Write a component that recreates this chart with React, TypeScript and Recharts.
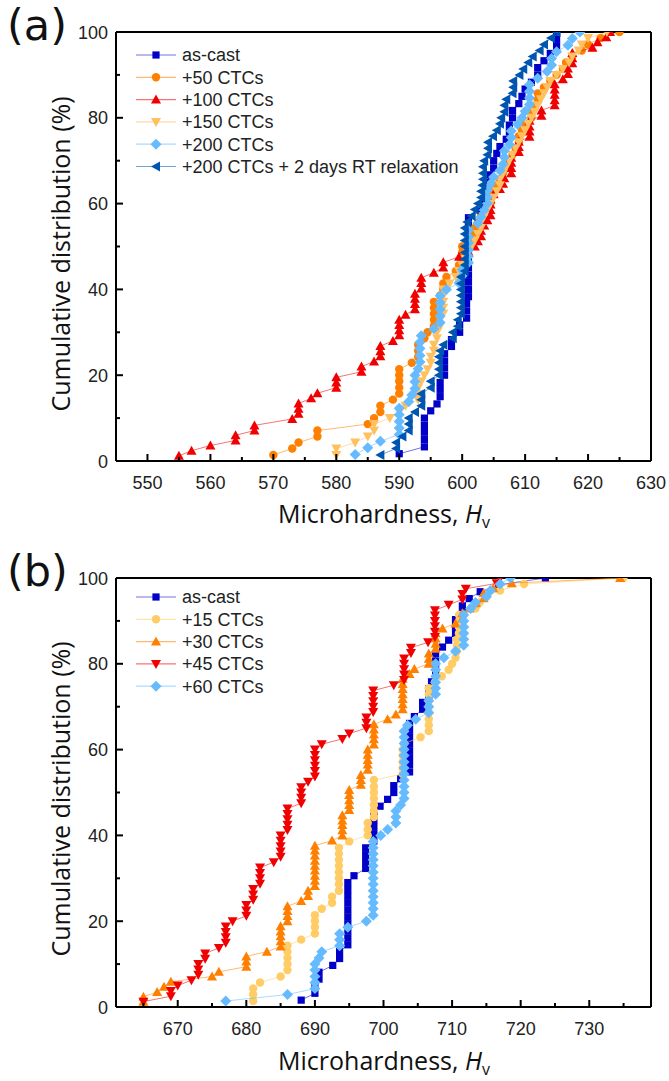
import React from 'react';
import { ScatterChart, Scatter, XAxis, YAxis, ReferenceLine, Legend } from 'recharts';

type Pt = [number, number];

// ---------- Panel (a) ----------
const namesA = ['as-cast', '+50 CTCs', '+100 CTCs', '+150 CTCs', '+200 CTCs', '+200 CTCs + 2 days RT relaxation'];
const xTicksA = [550, 555, 560, 565, 570, 575, 580, 585, 590, 595, 600, 605, 610, 615, 620, 625, 630];
const yTicks = [0, 10, 20, 30, 40, 50, 60, 70, 80, 90, 100];

const asCastA: Pt[] = [[590,1.7],[594,3.3],[594,5.0],[594,6.7],[594,8.3],[594,10.0],[595,11.7],[596,13.3],[596.5,15.0],[596.5,16.7],[596.5,18.3],[597.2,20.0],[597.2,21.7],[597.2,23.3],[597.2,25.0],[598.3,26.7],[598.3,28.3],[599.6,30.0],[599.6,31.7],[600.7,33.3],[600.7,35.0],[600.7,36.7],[601,38.3],[601,40.0],[601,41.7],[601,43.3],[601,45.0],[601,46.7],[601,48.3],[601,50.0],[601,51.7],[601,53.3],[601,55.0],[601,56.7],[603,58.3],[603.5,60.0],[604,61.7],[604,63.3],[604,65.0],[604.5,66.7],[605,68.3],[605,70.0],[605.5,71.7],[606,73.3],[607,75.0],[607.5,76.7],[607.5,78.3],[608,80.0],[608,81.7],[609,83.3],[609.5,85.0],[610,86.7],[611,88.3],[612,90.0],[612,91.7],[613,93.3],[614,95.0],[615,96.7],[615,98.3],[615,100]];

const ctc50A: Pt[] = [[570,1.4],[573,2.9],[574,4.3],[577,5.7],[577,7.1],[585,8.6],[586,10.0],[587,11.4],[587,12.9],[589,14.3],[590,15.7],[590,17.1],[590,18.6],[590,20.0],[590,21.4],[592,22.9],[593,24.3],[593,25.7],[593,27.1],[594,28.6],[594.5,30.0],[595.5,31.4],[595.5,32.9],[595.5,34.3],[595.5,35.7],[595.5,37.1],[596.5,38.6],[597,40.0],[597,41.4],[597.5,42.9],[599,44.3],[599.5,45.7],[600,47.1],[600,48.6],[600,50.0],[601.5,51.4],[602,52.9],[602,54.3],[602.5,55.7],[603,57.1],[604,58.6],[604.5,60.0],[604.5,61.4],[605,62.9],[605.5,64.3],[606,65.7],[606.5,67.1],[607,68.6],[607.5,70.0],[608,71.4],[608.5,72.9],[609,74.3],[609,75.7],[609.5,77.1],[610,78.6],[611,80.0],[611,81.4],[611.5,82.9],[612,84.3],[612,85.7],[613,87.1],[614,88.6],[615,90.0],[616,91.4],[616.5,92.9],[617.5,94.3],[619,95.7],[620,97.1],[622,98.6],[625,100]];

const ctc100A: Pt[] = [[555,1.2],[557,2.4],[560,3.6],[564,4.8],[564,6.0],[567,7.1],[567,8.3],[573,9.8],[574,11.0],[574,12.2],[574,13.4],[576,14.6],[577,15.8],[580,17.1],[580,18.3],[580,19.5],[584,20.8],[584,22.0],[586,23.2],[587,24.4],[587,25.6],[587,26.8],[589,28.0],[590,29.3],[590,30.5],[590,31.7],[590,32.9],[591,34.1],[592.5,35.4],[592.5,36.6],[592.5,37.8],[592.5,39.0],[593.5,40.2],[593.5,41.5],[593.5,42.7],[595.5,43.9],[597,45.1],[597,46.3],[599.5,47.6],[601,48.8],[602,50.0],[602.5,51.2],[603,52.4],[603,53.7],[603.5,54.9],[604,56.1],[604.5,57.3],[604.5,58.5],[604.5,59.8],[604.5,61.0],[605,62.2],[606,63.4],[606.5,64.6],[606.7,65.9],[607.8,67.1],[607.8,68.3],[607.8,69.5],[607.8,70.7],[609,72.0],[609,73.2],[609,74.4],[610.7,75.6],[610.7,76.8],[610.7,78.0],[610.7,79.3],[612.6,80.5],[612.6,81.7],[614.7,82.9],[614.7,84.1],[614.7,85.4],[614.7,86.6],[614.7,87.8],[616,89.0],[616.8,90.2],[616.8,91.5],[617.5,92.7],[617.5,93.9],[617.5,95.1],[620.7,96.3],[621.5,97.6],[622.9,98.8],[623.5,100]];

const ctc150A: Pt[] = [[580,1.4],[580,2.9],[583,4.3],[585,5.7],[586,7.1],[586,8.6],[588.5,10.0],[590,11.4],[591,12.9],[593,14.3],[593,15.7],[593,17.1],[593.5,18.6],[594,20.0],[594.5,21.4],[595,22.9],[595,24.3],[595.5,25.7],[595.5,27.1],[596,28.6],[596,30.0],[596.5,31.4],[596.5,32.9],[597,34.3],[597,35.7],[597,37.1],[597,38.6],[597,40.0],[598,41.4],[599,42.9],[599.5,44.3],[600,45.7],[600.5,47.1],[601,48.6],[601.5,50.0],[602,51.4],[602.5,52.9],[603,54.3],[603,55.7],[603.5,57.1],[604,58.6],[604.5,60.0],[605,61.4],[605.5,62.9],[606,64.3],[606,65.7],[606.5,67.1],[607,68.6],[607.5,70.0],[608,71.4],[608.5,72.9],[609,74.3],[609.5,75.7],[610,77.1],[610.5,78.6],[611,80.0],[611.5,81.4],[612,82.9],[612.5,84.3],[613,85.7],[613.5,87.1],[614,88.6],[615,90.0],[616,91.4],[617,92.9],[617.5,94.3],[618.5,95.7],[619,97.1],[620,98.6],[623,100]];

const ctc200A: Pt[] = [[583,1.5],[585,3.1],[587,4.6],[590,6.2],[590,7.7],[590,9.2],[590,10.8],[590,12.3],[591.5,13.8],[592,15.4],[592.5,16.9],[592.5,18.5],[592.5,20.0],[593,21.5],[593.3,23.1],[593.3,24.6],[593.3,26.2],[593.3,27.7],[593.5,29.2],[595.5,30.8],[596.5,32.3],[596.5,33.8],[596.5,35.4],[596.5,36.9],[596.5,38.5],[597.5,40.0],[599.5,41.5],[600,43.1],[600,44.6],[601,46.2],[601,47.7],[601,49.2],[601,50.8],[601,52.3],[601,53.8],[602.5,55.4],[603,56.9],[603.5,58.5],[604,60.0],[604,61.5],[604,63.1],[604.5,64.6],[605,66.2],[606,67.7],[606.5,69.2],[606.7,70.8],[606.7,72.3],[607.5,73.8],[607.8,75.4],[607.8,76.9],[608.8,78.5],[609.5,80.0],[610,81.5],[610.7,83.1],[610.7,84.6],[610.7,86.2],[610.7,87.7],[612,89.2],[613.5,90.8],[614.2,92.3],[614.2,93.8],[615,95.4],[616.8,96.9],[617.5,98.5],[618.7,100]];

const relaxA: Pt[] = [[587,1.4],[589.5,2.9],[589.5,4.3],[590.5,5.7],[591.5,7.1],[591.5,8.6],[591.5,10.0],[592.5,11.4],[593.5,12.9],[593.5,14.3],[593.5,15.7],[595,17.1],[595,18.6],[596.3,20.0],[596.3,21.4],[596.3,22.9],[596.3,24.3],[596.5,25.7],[597,27.1],[598.5,28.6],[598.5,30.0],[599.3,31.4],[599.3,32.9],[599.8,34.3],[599.8,35.7],[599.8,37.1],[599.8,38.6],[599.8,40.0],[599.8,41.4],[599.8,42.9],[600.4,44.3],[600.4,45.7],[600.4,47.1],[600.4,48.6],[600.4,50.0],[600.4,51.4],[600.4,52.9],[600.4,54.3],[600.8,55.7],[601.5,57.1],[602,58.6],[602.5,60.0],[603,61.4],[603,62.9],[603.2,64.3],[603.3,65.7],[603.3,67.1],[603.3,68.6],[603.5,70.0],[604,71.4],[604.1,72.9],[604.1,74.3],[604.9,75.7],[605.5,77.1],[606,78.6],[606.2,80.0],[606.7,81.4],[606.7,82.9],[607,84.3],[608,85.7],[608.1,87.1],[608.1,88.6],[609.1,90.0],[609.7,91.4],[610.5,92.9],[611.2,94.3],[612.3,95.7],[613,97.1],[614.1,98.6],[615,100]];

// ---------- Panel (b) ----------
const namesB = ['as-cast', '+15 CTCs', '+30 CTCs', '+45 CTCs', '+60 CTCs'];
const xTicksB = [665, 670, 675, 680, 685, 690, 695, 700, 705, 710, 715, 720, 725, 730, 735];

const asCastB: Pt[] = [[688,1.6],[690,3.2],[690,4.8],[690.6,6.5],[690.6,8.1],[692.6,9.7],[693.6,11.3],[693.6,12.9],[694.8,14.5],[694.8,16.1],[694.8,17.7],[694.8,19.4],[694.8,21.0],[694.8,22.6],[694.8,24.2],[694.8,25.8],[694.8,27.4],[694.8,29.0],[695.7,30.6],[697.4,32.3],[697.4,33.9],[697.4,35.5],[697.4,37.1],[698.6,38.7],[698.6,40.3],[698.6,41.9],[698.6,43.5],[698.6,45.2],[699.5,46.8],[700.6,48.4],[701.5,50.0],[701.5,51.6],[702.5,53.2],[703.8,54.8],[703.8,56.5],[703.8,58.1],[703.8,59.7],[703.8,61.3],[703.8,62.9],[703.8,64.5],[703.8,66.1],[704.5,67.7],[705.7,69.4],[705.7,71.0],[706.6,72.6],[706.6,74.2],[707,75.8],[707.6,77.4],[707.6,79.0],[707.6,80.6],[707.6,82.3],[708.6,83.9],[709.5,85.5],[710.5,87.1],[710.5,88.7],[710.5,90.3],[711.5,91.9],[711.5,93.5],[712.5,95.2],[714.1,96.8],[716.8,98.4],[723.6,100]];

const ctc15B: Pt[] = [[681,1.4],[681,2.9],[681,4.3],[682,5.7],[685,7.1],[686,8.6],[686,10.0],[686,11.4],[686,12.9],[686,14.3],[688,15.7],[690,17.1],[690,18.6],[690,20.0],[690,21.4],[691,22.9],[692.5,24.3],[692.5,25.7],[693.5,27.1],[693.5,28.6],[693.5,30.0],[693.5,31.4],[693.5,32.9],[693.5,34.3],[693.5,35.7],[693.5,37.1],[695,38.6],[697.7,40.0],[697.7,41.4],[697.7,42.9],[698.6,44.3],[698.6,45.7],[698.6,47.1],[698.6,48.6],[698.6,50.0],[698.6,51.4],[698.6,52.9],[702.8,54.3],[702.8,55.7],[702.8,57.1],[702.8,58.6],[702.8,60.0],[703,61.4],[705.4,62.9],[706.6,64.3],[706.6,65.7],[706.6,67.1],[706.6,68.6],[706.6,70.0],[706.6,71.4],[706.6,72.9],[706.6,74.3],[707.5,75.7],[708.5,77.1],[709.5,78.6],[710,80.0],[710.5,81.4],[710.7,82.9],[710.7,84.3],[710.7,85.7],[711,87.1],[711,88.6],[711,90.0],[711,91.4],[713.4,92.9],[714,94.3],[715.1,95.7],[717,97.1],[720.5,98.6],[735,100]];

const ctc30B: Pt[] = [[665,1.2],[665,2.4],[667,3.5],[668,4.7],[669,5.9],[675,7.1],[676,8.2],[680,9.4],[680,10.6],[680,11.8],[683,12.9],[685,14.1],[685,15.3],[685,16.5],[685,17.6],[685,18.8],[686,20.0],[686,21.2],[686,22.4],[686,23.5],[688,24.7],[689,25.9],[689,27.1],[690,28.2],[690,29.4],[690,30.6],[690,31.8],[690,32.9],[690,34.1],[690,35.3],[690,36.5],[690,37.6],[692.5,38.8],[694,40.0],[694,41.2],[694,42.4],[694,43.5],[694,44.7],[695,45.9],[695,47.1],[695,48.2],[695,49.4],[695,50.6],[696.7,51.8],[696.7,52.9],[696.7,54.1],[697.7,55.3],[697.7,56.5],[697.7,57.6],[697.7,58.8],[697.7,60.0],[698.6,61.2],[698.6,62.4],[698.6,63.5],[698.6,64.7],[698.6,65.9],[700.6,67.1],[701.8,68.2],[702.8,69.4],[702.8,70.6],[702.8,71.8],[702.8,72.9],[702.8,74.1],[702.8,75.3],[702.8,76.5],[703.8,77.6],[704.5,78.8],[706.6,80.0],[706.6,81.2],[706.6,82.4],[707.6,83.5],[707.6,84.7],[707.6,85.9],[707.6,87.1],[708.6,88.2],[710.5,89.4],[711.5,90.6],[711.5,91.8],[712.5,92.9],[713.5,94.1],[714.6,95.3],[714.6,96.5],[716,97.6],[718.7,98.8],[734.5,100]];

const ctc45B: Pt[] = [[665,1.25],[669,2.5],[669,3.75],[670,5.0],[672,6.25],[673,7.5],[673,8.75],[673,10.0],[674,11.25],[674,12.5],[676,13.75],[677,15.0],[677,16.25],[677,17.5],[677,18.75],[678,20.0],[680,21.25],[680,22.5],[680,23.75],[681,25.0],[681,26.25],[681,27.5],[682,28.75],[682,30.0],[682,31.25],[682,32.5],[684,33.75],[685,35.0],[685,36.25],[685,37.5],[685,38.75],[685,40.0],[686,41.25],[686,42.5],[686,43.75],[686,45.0],[686,46.25],[688,47.5],[688,48.75],[688,50.0],[688,51.25],[689,52.5],[690,53.75],[690,55.0],[690,56.25],[690,57.5],[690,58.75],[690,60.0],[691,61.25],[694,62.5],[695,63.75],[697.5,65.0],[697.5,66.25],[697.5,67.5],[698.5,68.75],[698.5,70.0],[698.5,71.25],[698.5,72.5],[698.5,73.75],[701.5,75.0],[703,76.25],[703,77.5],[703,78.75],[703,80.0],[703,81.25],[704,82.5],[704,83.75],[706.5,85.0],[707.5,86.25],[707.5,87.5],[707.5,88.75],[707.5,90.0],[707.5,91.25],[707.5,92.5],[709.5,93.75],[711.5,95.0],[711.5,96.25],[712,97.5],[716.5,98.75],[717,100]];

const ctc60B: Pt[] = [[677,1.4],[686,2.9],[690,4.3],[690,5.7],[690,7.1],[690,8.6],[690,10.0],[690.6,11.4],[691,12.9],[693.6,14.3],[693.6,15.7],[693.6,17.1],[694.8,18.6],[697.5,20.0],[698.5,21.4],[698.5,22.9],[698.5,24.3],[698.5,25.7],[698.5,27.1],[698.5,28.6],[698.5,30.0],[698.5,31.4],[698.5,32.9],[698.5,34.3],[698.5,35.7],[698.5,37.1],[698.5,38.6],[699.6,40.0],[700.6,41.4],[701.8,42.9],[701.8,44.3],[701.8,45.7],[702.5,47.1],[703,48.6],[703,50.0],[703,51.4],[703,52.9],[703,54.3],[703,55.7],[703,57.1],[703,58.6],[703,60.0],[703,61.4],[703,62.9],[703,64.3],[703.5,65.7],[704.7,67.1],[706.6,68.6],[706.6,70.0],[706.6,71.4],[707.6,72.9],[707.6,74.3],[707.6,75.7],[707.6,77.1],[707.6,78.6],[707.6,80.0],[708.8,81.4],[710.5,82.9],[711.7,84.3],[711.7,85.7],[711.7,87.1],[711.7,88.6],[711.7,90.0],[711.7,91.4],[712.7,92.9],[713.4,94.3],[715,95.7],[715.6,97.1],[717,98.6],[718.5,100]];

// ---------- styles ----------
type Shape = 'square' | 'circle' | 'up' | 'down' | 'diamond' | 'left';
interface Series { name: string; data: Pt[]; color: string; shape: Shape; }

const seriesA: Series[] = [
  { name: namesA[0], data: asCastA, color: '#0000C8', shape: 'square' },
  { name: namesA[1], data: ctc50A, color: '#FF8000', shape: 'circle' },
  { name: namesA[2], data: ctc100A, color: '#F00000', shape: 'up' },
  { name: namesA[3], data: ctc150A, color: '#FFC060', shape: 'down' },
  { name: namesA[4], data: ctc200A, color: '#66BBFF', shape: 'diamond' },
  { name: namesA[5], data: relaxA, color: '#0055B0', shape: 'left' },
];
const seriesB: Series[] = [
  { name: namesB[0], data: asCastB, color: '#0000C8', shape: 'square' },
  { name: namesB[1], data: ctc15B, color: '#FFCC66', shape: 'circle' },
  { name: namesB[2], data: ctc30B, color: '#FF8000', shape: 'up' },
  { name: namesB[3], data: ctc45B, color: '#F00000', shape: 'down' },
  { name: namesB[4], data: ctc60B, color: '#66BBFF', shape: 'diamond' },
];

const Marker = ({ cx, cy, color, shape }: { cx: number; cy: number; color: string; shape: Shape }) => {
  if (cx == null || cy == null || isNaN(cx) || isNaN(cy)) return null;
  switch (shape) {
    case 'square':
      return <rect x={cx - 3.6} y={cy - 3.6} width={7.2} height={7.2} fill={color} />;
    case 'circle':
      return <circle cx={cx} cy={cy} r={4.2} fill={color} />;
    case 'up':
      return <polygon points={`${cx},${cy - 5} ${cx - 5},${cy + 4} ${cx + 5},${cy + 4}`} fill={color} />;
    case 'down':
      return <polygon points={`${cx},${cy + 5} ${cx - 5},${cy - 4} ${cx + 5},${cy - 4}`} fill={color} />;
    case 'diamond':
      return <polygon points={`${cx},${cy - 5.5} ${cx + 5.5},${cy} ${cx},${cy + 5.5} ${cx - 5.5},${cy}`} fill={color} />;
    case 'left':
      return <polygon points={`${cx - 5},${cy} ${cx + 4},${cy - 5} ${cx + 4},${cy + 5}`} fill={color} />;
  }
  return null;
};

const TICK_FONT = '"Liberation Sans", Arial, sans-serif';
const TITLE_FONT = '"Open Sans", "Noto Sans", sans-serif';
const LABEL_FONT = '"DejaVu Sans", "Open Sans", sans-serif';

const makeXTick = (major: number) => (props: any) => {
  const { x, y, payload } = props;
  const v = payload.value;
  const isMajor = Math.abs(v % major) < 1e-6;
  return (
    <g>
      <line x1={x} x2={x} y1={y} y2={y - (isMajor ? 7 : 4)} stroke="#000" strokeWidth={2} />
      {isMajor && (
        <text x={x} y={y + 28} textAnchor="middle" fontSize={18} fontFamily={TICK_FONT} fill="#222">{v}</text>
      )}
    </g>
  );
};

const YTick = (props: any) => {
  const { x, y, payload } = props;
  const v = payload.value;
  const isMajor = v % 20 === 0;
  return (
    <g>
      <line x1={x} x2={x + (isMajor ? 7 : 4)} y1={y} y2={y} stroke="#000" strokeWidth={2} />
      {isMajor && (
        <text x={x - 8} y={y + 6.5} textAnchor="end" fontSize={18} fontFamily={TICK_FONT} fill="#222">{v}</text>
      )}
    </g>
  );
};

const LegendBox = ({ items }: { items: Series[] }) => {
  const rowH = 22.3;
  return (
    <svg width={360} height={items.length * rowH + 4} style={{ display: 'block' }}>
      {items.map((s, i) => {
        const cy = 11 + i * rowH;
        return (
          <g key={s.name}>
            <line x1={0} x2={40} y1={cy} y2={cy} stroke={s.color} strokeOpacity={0.55} strokeWidth={1.2} />
            <Marker cx={20} cy={cy} color={s.color} shape={s.shape} />
            <text x={46} y={cy + 6.3} fontSize={18} fontFamily={TICK_FONT} fill="#222">{s.name}</text>
          </g>
        );
      })}
    </svg>
  );
};

const Panel = ({ series, domain, ticks, major, height, xAxisH, legendTop }: {
  series: Series[]; domain: [number, number]; ticks: number[]; major: number; height: number; xAxisH: number; legendTop: number;
}) => (
  <ScatterChart width={669} height={height} margin={{ top: 32, right: 18, bottom: 0, left: 0 }}>
    <XAxis
      type="number"
      dataKey="x"
      domain={domain}
      ticks={ticks}
      interval={0}
      allowDataOverflow
      height={xAxisH}
      tickSize={0}
      tickMargin={0}
      tickLine={false}
      axisLine={{ stroke: '#000', strokeWidth: 2 }}
      tick={makeXTick(major)}
    />
    <YAxis
      type="number"
      dataKey="y"
      domain={[0, 100]}
      ticks={yTicks}
      interval={0}
      allowDataOverflow
      width={116}
      tickSize={0}
      tickMargin={0}
      tickLine={false}
      axisLine={{ stroke: '#000', strokeWidth: 2 }}
      tick={YTick}
    />
    <ReferenceLine y={100} stroke="#000" strokeWidth={2} ifOverflow="extendDomain" />
    <ReferenceLine x={domain[1]} stroke="#000" strokeWidth={2} ifOverflow="extendDomain" />
    <Legend
      layout="vertical"
      align="center"
      verticalAlign="middle"
      wrapperStyle={{ left: 136, top: legendTop, width: 360 }}
      content={() => <LegendBox items={series} />}
    />
    {series.map((s) => (
      <Scatter
        key={s.name}
        name={s.name}
        data={s.data.map(([x, y]) => ({ x, y }))}
        fill={s.color}
        isAnimationActive={false}
        line={{ stroke: s.color, strokeWidth: 1, strokeOpacity: 0.55 }}
        lineType="joint"
        shape={(p: any) => <Marker cx={p.cx} cy={p.cy} color={s.color} shape={s.shape} />}
      />
    ))}
  </ScatterChart>
);

const yTitleStyle = (cx: number, cy: number): React.CSSProperties => ({
  position: 'absolute',
  left: cx - 200,
  top: cy - 16,
  width: 400,
  height: 32,
  lineHeight: '32px',
  textAlign: 'center',
  transform: 'rotate(-90deg)',
  fontFamily: TITLE_FONT,
  fontSize: 25,
  color: '#111',
  whiteSpace: 'nowrap',
});

const xTitleStyle = (cx: number, cy: number): React.CSSProperties => ({
  position: 'absolute',
  left: cx - 200,
  top: cy - 16,
  width: 400,
  height: 32,
  lineHeight: '32px',
  textAlign: 'center',
  fontFamily: TITLE_FONT,
  fontSize: 25,
  color: '#111',
  whiteSpace: 'nowrap',
});

const panelLabelStyle = (x: number, y: number): React.CSSProperties => ({
  position: 'absolute',
  left: x,
  top: y,
  fontFamily: LABEL_FONT,
  fontSize: 43,
  lineHeight: 'normal',
  color: '#111',
  whiteSpace: 'nowrap',
});

export default function App() {
  return (
    <div style={{ position: 'absolute', left: 0, top: 0, width: 669, height: 1081, background: '#fff', overflow: 'hidden' }}>
      <div style={{ position: 'absolute', left: 0, top: 0 }}>
        <Panel series={seriesA} domain={[545, 630]} ticks={xTicksA} major={10} height={540} xAxisH={79} legendTop={44} />
      </div>
      <div style={{ position: 'absolute', left: 0, top: 546 }}>
        <Panel series={seriesB} domain={[661, 739]} ticks={xTicksB} major={10} height={535} xAxisH={74} legendTop={40} />
      </div>
      <div style={panelLabelStyle(7, 0)}>(a)</div>
      <div style={panelLabelStyle(7, 546)}>(b)</div>
      <div style={yTitleStyle(60, 254)}>Cumulative distribution (%)</div>
      <div style={yTitleStyle(60, 799)}>Cumulative distribution (%)</div>
      <div style={xTitleStyle(384, 513)}>Microhardness, <i>H</i><sub style={{ fontSize: 16, verticalAlign: -5 }}>v</sub></div>
      <div style={xTitleStyle(384, 1060)}>Microhardness, <i>H</i><sub style={{ fontSize: 16, verticalAlign: -5 }}>v</sub></div>
    </div>
  );
}
